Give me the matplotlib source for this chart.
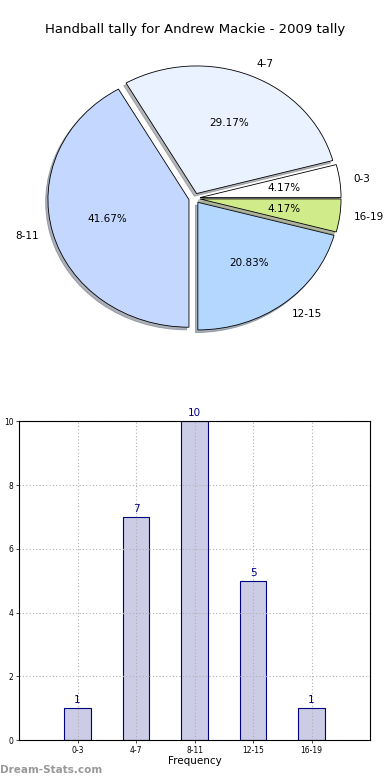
import matplotlib
matplotlib.use('Agg')
import matplotlib.pyplot as plt
import numpy as np

# data
categories = ['0-3', '4-7', '8-11', '12-15', '16-19']
tallies = [1, 7, 10, 5, 1]
pie_colors = ['#ffffff', '#eaf2ff', '#c4d8ff', '#b4d7ff', '#d0ec8a']

fig = plt.figure(figsize=(3.9, 7.8), dpi=100)

# Pie chart (slightly stretched horizontally like the original)
ax1 = fig.add_axes([0.0465, 0.5413, 0.904, 0.409])
ax1.pie(tallies, labels=categories, colors=pie_colors, autopct='%1.2f%%',
        explode=[0.04] * len(tallies),
        shadow={'ox': -0.012, 'oy': -0.015, 'shade': 0.55}, startangle=0,
        wedgeprops={'edgecolor': 'black', 'linewidth': 0.6},
        textprops={'fontsize': 7.5})
ax1.set_aspect('auto')
ax1.set_xlim(-1.25, 1.25)
ax1.set_ylim(-1.25, 1.25)
fig.text(0.5, 1 - 30 / 780, 'Handball tally for Andrew Mackie - 2009 tally',
         ha='center', va='center', fontsize=9.5)

# Bar chart
ax2 = fig.add_axes([0.049, 0.051, 0.9, 0.409])
x = np.arange(len(categories))
bars = ax2.bar(x, tallies, width=0.45, color='#ccccE6', edgecolor='#000080',
               linewidth=0.8, zorder=1)
for xi, v in zip(x, tallies):
    ax2.text(xi, v + 0.1, str(v), ha='center', va='bottom', color='#000080', fontsize=7.5)
ax2.set_xlim(-1, 5)
ax2.set_ylim(0, 10)
ax2.set_xticks(x)
ax2.set_xticklabels(categories)
ax2.set_yticks(range(0, 11, 2))
ax2.tick_params(labelsize=5.5, length=2, width=0.5, pad=2)
ax2.set_axisbelow('line')
ax2.grid(True, linestyle=(0, (1, 2)), color='#b0b0b0', linewidth=0.8)
ax2.set_xlabel('Frequency', fontsize=7.5, labelpad=1)
ax2.set_ylabel('Number of tallies', fontsize=7, labelpad=2)
for sp in ax2.spines.values():
    sp.set_linewidth(0.8)

fig.text(0.0, 1 - 770 / 780, 'Dream-Stats.com', ha='left', va='center',
         fontsize=7.5, color='#999999', fontweight='bold')

fig.savefig('out.png', dpi=100)
